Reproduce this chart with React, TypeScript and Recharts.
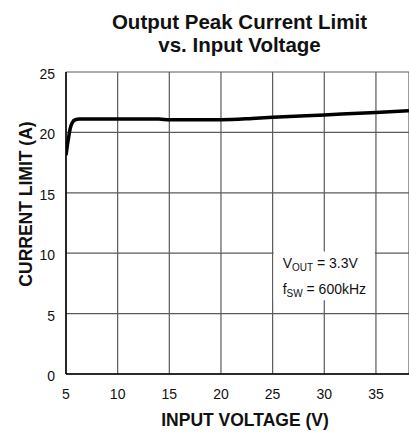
import { CartesianGrid, Line, LineChart, ReferenceArea, XAxis, YAxis } from "recharts"

const inputVoltage = [5, 5.2, 5.4, 5.6, 5.9, 6.3, 8, 10, 14, 15, 20, 23, 25, 30, 35, 38.2]
const currentLimit = [18.1, 19.3, 20.3, 20.8, 21.05, 21.1, 21.1, 21.1, 21.1, 21.05, 21.05, 21.15, 21.25, 21.45, 21.65, 21.8]
const xTicks = [5, 10, 15, 20, 25, 30, 35]
const yTicks = [0, 5, 10, 15, 20, 25]

const data = inputVoltage.map((v, i) => ({ v, i: currentLimit[i] }))

const font = "'Liberation Sans', Arial, sans-serif"

// plot box: left edge 66, bottom edge 374
const XTick = ({ x, payload }: any) => (
  <text x={x} y={399} textAnchor="middle" fontSize={14} fill="#111" fontFamily={font}>
    {payload.value}
  </text>
)

const YTick = ({ y, payload }: any) => (
  <text x={55} y={y + 7} textAnchor="end" fontSize={14} fill="#111" fontFamily={font}>
    {payload.value}
  </text>
)

const Note = ({ viewBox }: any) => {
  const { x, y } = viewBox
  return (
    <g fontFamily={font} fill="#111" fontSize={14}>
      <text x={x + 9} y={y + 17}>
        V<tspan fontSize={10} dy={3}>OUT</tspan>
        <tspan dy={-3}> = 3.3V</tspan>
      </text>
      <text x={x + 9} y={y + 43}>
        f<tspan fontSize={10} dy={3}>SW</tspan>
        <tspan dy={-3}> = 600kHz</tspan>
      </text>
    </g>
  )
}

export default function App() {
  return (
    <div style={{ position: "absolute", left: 0, top: 0, width: 409, height: 433, background: "#fff", fontFamily: font }}>
      <div
        style={{
          position: "absolute",
          left: 70,
          right: 0,
          top: 10,
          textAlign: "center",
          fontWeight: "bold",
          fontSize: 20.5,
          lineHeight: "23px",
          color: "#111",
        }}
      >
        Output Peak Current Limit
        <br />
        vs. Input Voltage
      </div>
      <LineChart width={409} height={433} data={data} margin={{ top: 72, right: 0, left: 0, bottom: 0 }}>
        <CartesianGrid stroke="#5a5a5a" strokeWidth={1.2} />
        <XAxis
          dataKey="v"
          type="number"
          domain={[5, 38.2]}
          ticks={xTicks}
          allowDataOverflow
          height={59}
          tickLine={false}
          axisLine={{ stroke: "#000", strokeWidth: 1.5 }}
          tick={<XTick />}
          label={{
            content: () => (
              <text x={245} y={426} textAnchor="middle" fontSize={17.5} fontWeight="bold" fill="#111" fontFamily={font}>
                INPUT VOLTAGE (V)
              </text>
            ),
          }}
        />
        <YAxis
          type="number"
          domain={[0, 25]}
          ticks={yTicks}
          width={66}
          tickLine={false}
          axisLine={{ stroke: "#000", strokeWidth: 1.5 }}
          tick={<YTick />}
          label={{
            content: () => (
              <text
                x={32}
                y={204}
                transform="rotate(-90 32 204)"
                textAnchor="middle"
                fontSize={17.5}
                fontWeight="bold"
                fill="#111"
                fontFamily={font}
              >
                CURRENT LIMIT (A)
              </text>
            ),
          }}
        />
        <ReferenceArea x1={25.1} x2={34.9} y1={6.1} y2={10.15} fill="#fff" fillOpacity={1} stroke="none" label={<Note />} />
        <Line type="monotone" dataKey="i" stroke="#000" strokeWidth={3.5} dot={false} isAnimationActive={false} />
      </LineChart>
    </div>
  )
}
